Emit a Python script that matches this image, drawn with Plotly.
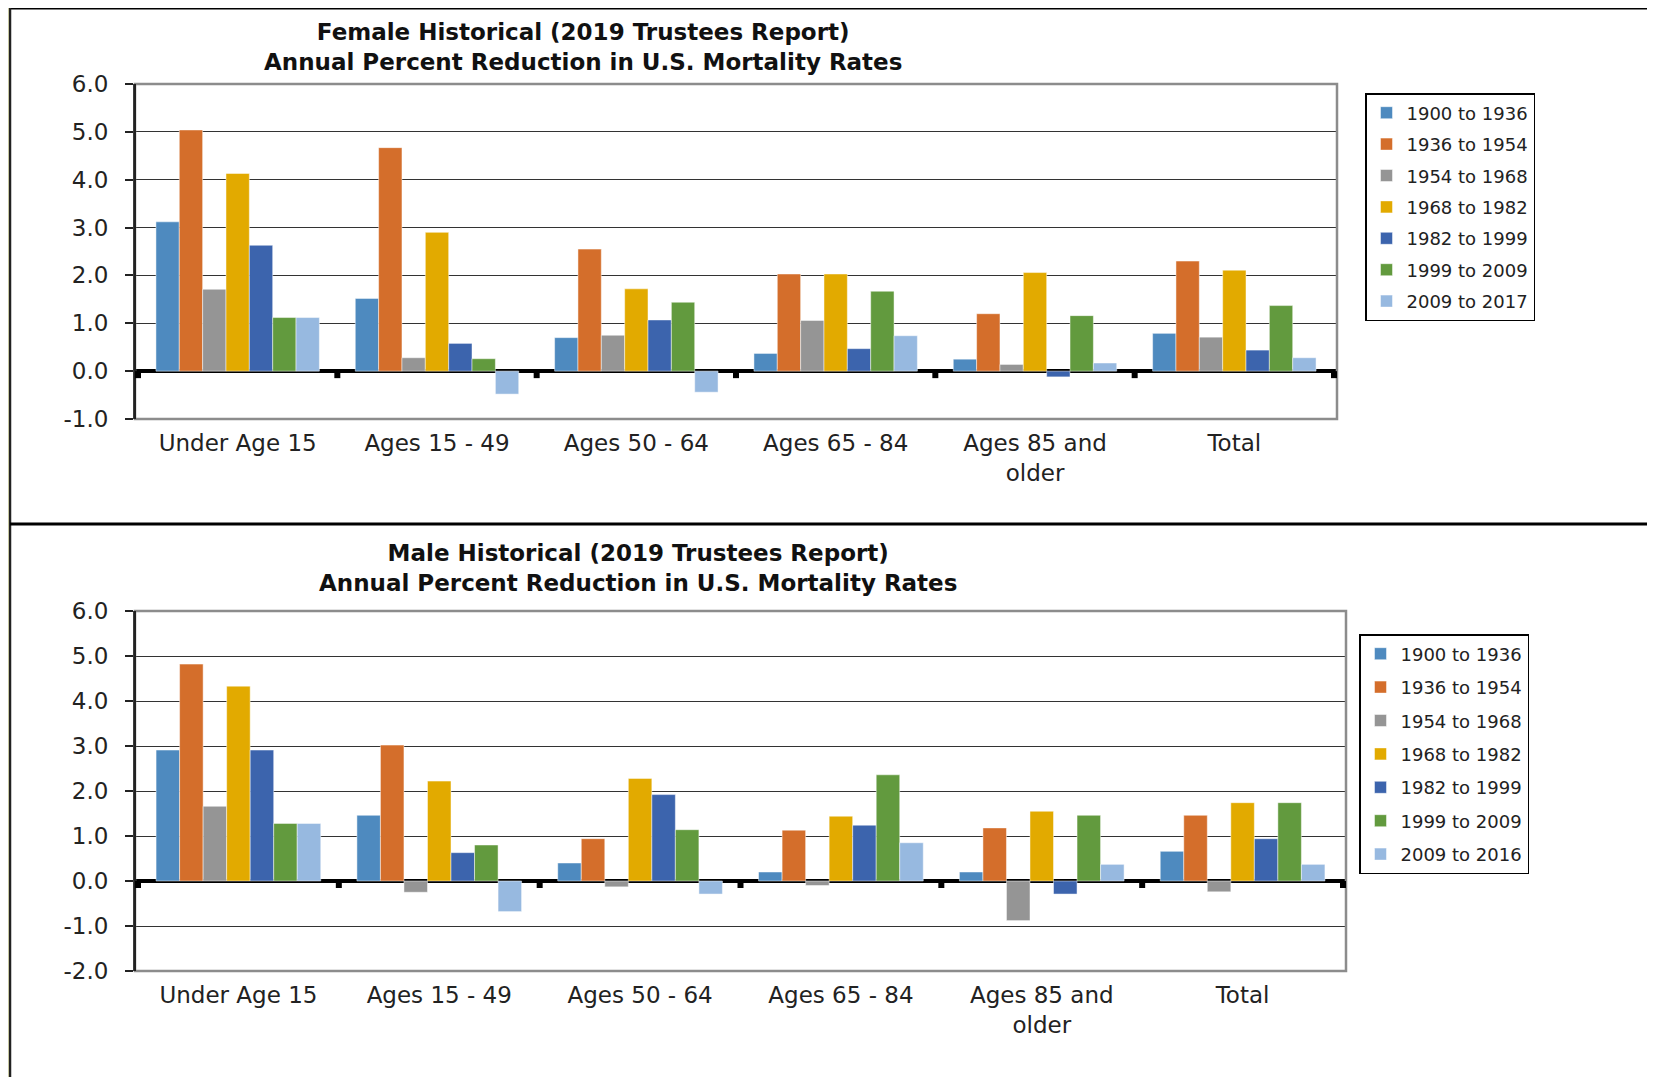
import plotly.graph_objects as go

# ── Data ──────────────────────────────────────────────────────────────────
categories = ["Under Age 15", "Ages 15 - 49", "Ages 50 - 64", "Ages 65 - 84",
              "Ages 85 and<br>older", "Total"]

female_periods = ["1900 to 1936", "1936 to 1954", "1954 to 1968", "1968 to 1982",
                  "1982 to 1999", "1999 to 2009", "2009 to 2017"]
male_periods = ["1900 to 1936", "1936 to 1954", "1954 to 1968", "1968 to 1982",
                "1982 to 1999", "1999 to 2009", "2009 to 2016"]

f_1900_1936 = [3.12, 1.52, 0.70, 0.37, 0.25, 0.79]
f_1936_1954 = [5.04, 4.67, 2.55, 2.03, 1.20, 2.30]
f_1954_1968 = [1.71, 0.28, 0.75, 1.06, 0.14, 0.71]
f_1968_1982 = [4.13, 2.90, 1.72, 2.03, 2.06, 2.11]
f_1982_1999 = [2.63, 0.58, 1.07, 0.47, -0.12, 0.44]
f_1999_2009 = [1.12, 0.26, 1.44, 1.67, 1.16, 1.37]
f_2009_2017 = [1.12, -0.48, -0.44, 0.74, 0.17, 0.28]

m_1900_1936 = [2.91, 1.46, 0.40, 0.20, 0.20, 0.66]
m_1936_1954 = [4.82, 3.02, 0.94, 1.13, 1.18, 1.46]
m_1954_1968 = [1.66, -0.25, -0.13, -0.10, -0.88, -0.24]
m_1968_1982 = [4.33, 2.22, 2.28, 1.44, 1.55, 1.74]
m_1982_1999 = [2.91, 0.63, 1.92, 1.24, -0.29, 0.94]
m_1999_2009 = [1.28, 0.80, 1.14, 2.36, 1.46, 1.74]
m_2009_2016 = [1.28, -0.68, -0.29, 0.85, 0.37, 0.37]

female_series = [f_1900_1936, f_1936_1954, f_1954_1968, f_1968_1982,
                 f_1982_1999, f_1999_2009, f_2009_2017]
male_series = [m_1900_1936, m_1936_1954, m_1954_1968, m_1968_1982,
               m_1982_1999, m_1999_2009, m_2009_2016]

female_ticks = [-1, 0, 1, 2, 3, 4, 5, 6]
male_ticks = [-2, -1, 0, 1, 2, 3, 4, 5, 6]

# ── Style ─────────────────────────────────────────────────────────────────
# The page body keeps its default 8px margin, so the figure is sized to the
# remaining window and all layout positions are given in window pixels.
PAGE_W, PAGE_H = 1655, 1077
OFF = 8
W, H = PAGE_W - OFF, PAGE_H - OFF
FONT = "DejaVu Sans"
COLORS = ["#4E8ABF", "#D46E2B", "#959595", "#E2AA00",
          "#3C64AD", "#629A3E", "#97B9E0"]


def px(x):
    return (x - OFF) / W


def py(y):
    return 1 - (y - OFF) / H


fig = go.Figure()

for i, (name, vals) in enumerate(zip(female_periods, female_series)):
    fig.add_trace(go.Bar(
        x=categories, y=vals, name=name, xaxis="x", yaxis="y",
        marker=dict(color=COLORS[i], line=dict(color="rgba(255,255,255,0.6)", width=0.8)),
        legend="legend", legendgroup=f"f{i}",
    ))

for i, (name, vals) in enumerate(zip(male_periods, male_series)):
    fig.add_trace(go.Bar(
        x=categories, y=vals, name=name, xaxis="x2", yaxis="y2",
        marker=dict(color=COLORS[i], line=dict(color="rgba(255,255,255,0.6)", width=0.8)),
        legend="legend2", legendgroup=f"m{i}",
    ))

xcommon = dict(
    type="category", showgrid=False, zeroline=False, showline=False,
    ticks="", tickfont=dict(family=FONT, size=23, color="#222222"),
    ticklabelstandoff=8, tickangle=0, fixedrange=True, automargin=False,
)
ycommon = dict(
    showgrid=True, gridcolor="#333333", gridwidth=1,
    zeroline=True, zerolinecolor="black", zerolinewidth=4,
    showline=True, linecolor="#222222", linewidth=2,
    ticks="outside", ticklen=8, tickcolor="#222222", tickwidth=1.5,
    tickfont=dict(family=FONT, size=23, color="#222222"),
    ticklabelstandoff=12, fixedrange=True, automargin=False,
)

legend_common = dict(
    xanchor="left", yanchor="top",
    bgcolor="white", bordercolor="black", borderwidth=1.5,
    font=dict(family=FONT, size=18, color="#222222"),
    traceorder="grouped",
)

fig.update_layout(
    width=W, height=H,
    margin=dict(l=0, r=0, t=0, b=0, autoexpand=False),
    paper_bgcolor="#FFFFCC",
    plot_bgcolor="white",
    barmode="group", bargap=0.18, bargroupgap=0,
    xaxis=dict(xcommon, domain=[px(135), px(1337)], anchor="y"),
    yaxis=dict(ycommon, domain=[py(419), py(84)], anchor="x",
               range=[-1, 6], tickvals=female_ticks,
               ticktext=[f"{v:.1f}" for v in female_ticks]),
    xaxis2=dict(xcommon, domain=[px(135), px(1346)], anchor="y2"),
    yaxis2=dict(ycommon, domain=[py(971), py(611)], anchor="x2",
                range=[-2, 6], tickvals=male_ticks,
                ticktext=[f"{v:.1f}" for v in male_ticks]),
    legend=dict(legend_common, x=px(1365), y=py(93), tracegroupgap=5),
    legend2=dict(legend_common, x=px(1359), y=py(634), tracegroupgap=7),
)

# Chart titles
titles = [
    ("Female Historical (2019 Trustees Report)<br>"
     "Annual Percent Reduction in U.S. Mortality Rates", 583, 47),
    ("Male Historical (2019 Trustees Report)<br>"
     "Annual Percent Reduction in U.S. Mortality Rates", 638, 568),
]
for text, tx, ty in titles:
    fig.add_annotation(
        text=f"<b>{text}</b>", xref="paper", yref="paper",
        x=px(tx), y=py(ty), xanchor="center", yanchor="middle",
        showarrow=False, font=dict(family=FONT, size=23, color="#111111"),
    )

shapes = [
    # white page area inside the frame
    dict(type="rect", xref="paper", yref="paper", layer="below",
         x0=px(10), x1=1, y0=0, y1=1, fillcolor="white", line=dict(width=0)),
    # frame lines
    dict(type="line", xref="paper", yref="paper",
         x0=px(10), x1=1, y0=1, y1=1, line=dict(color="black", width=3)),
    dict(type="line", xref="paper", yref="paper",
         x0=px(10), x1=px(10), y0=0, y1=1, line=dict(color="#222222", width=2.5)),
    # separator between the two charts
    dict(type="line", xref="paper", yref="paper",
         x0=px(10), x1=1, y0=py(524), y1=py(524), line=dict(color="black", width=3)),
]

# plot-area borders and category boundary ticks on the zero line
for xr, yr in (("x", "y"), ("x2", "y2")):
    shapes.append(dict(type="rect", xref=f"{xr} domain", yref=f"{yr} domain",
                       x0=0, x1=1, y0=0, y1=1, line=dict(color="#8C8C8C", width=2.5)))
    shapes.append(dict(type="line", xref=f"{xr} domain", yref=f"{yr} domain",
                       x0=0, x1=0, y0=0, y1=1, line=dict(color="#222222", width=2)))
    for k in range(len(categories) + 1):
        shapes.append(dict(type="rect", xref=xr, yref=yr,
                           xsizemode="pixel", ysizemode="pixel",
                           xanchor=k - 0.5, yanchor=0,
                           x0=-3, x1=3, y0=0, y1=-7,
                           fillcolor="black", line=dict(width=0)))

fig.update_layout(shapes=shapes)

fig.write_html("out.html")
